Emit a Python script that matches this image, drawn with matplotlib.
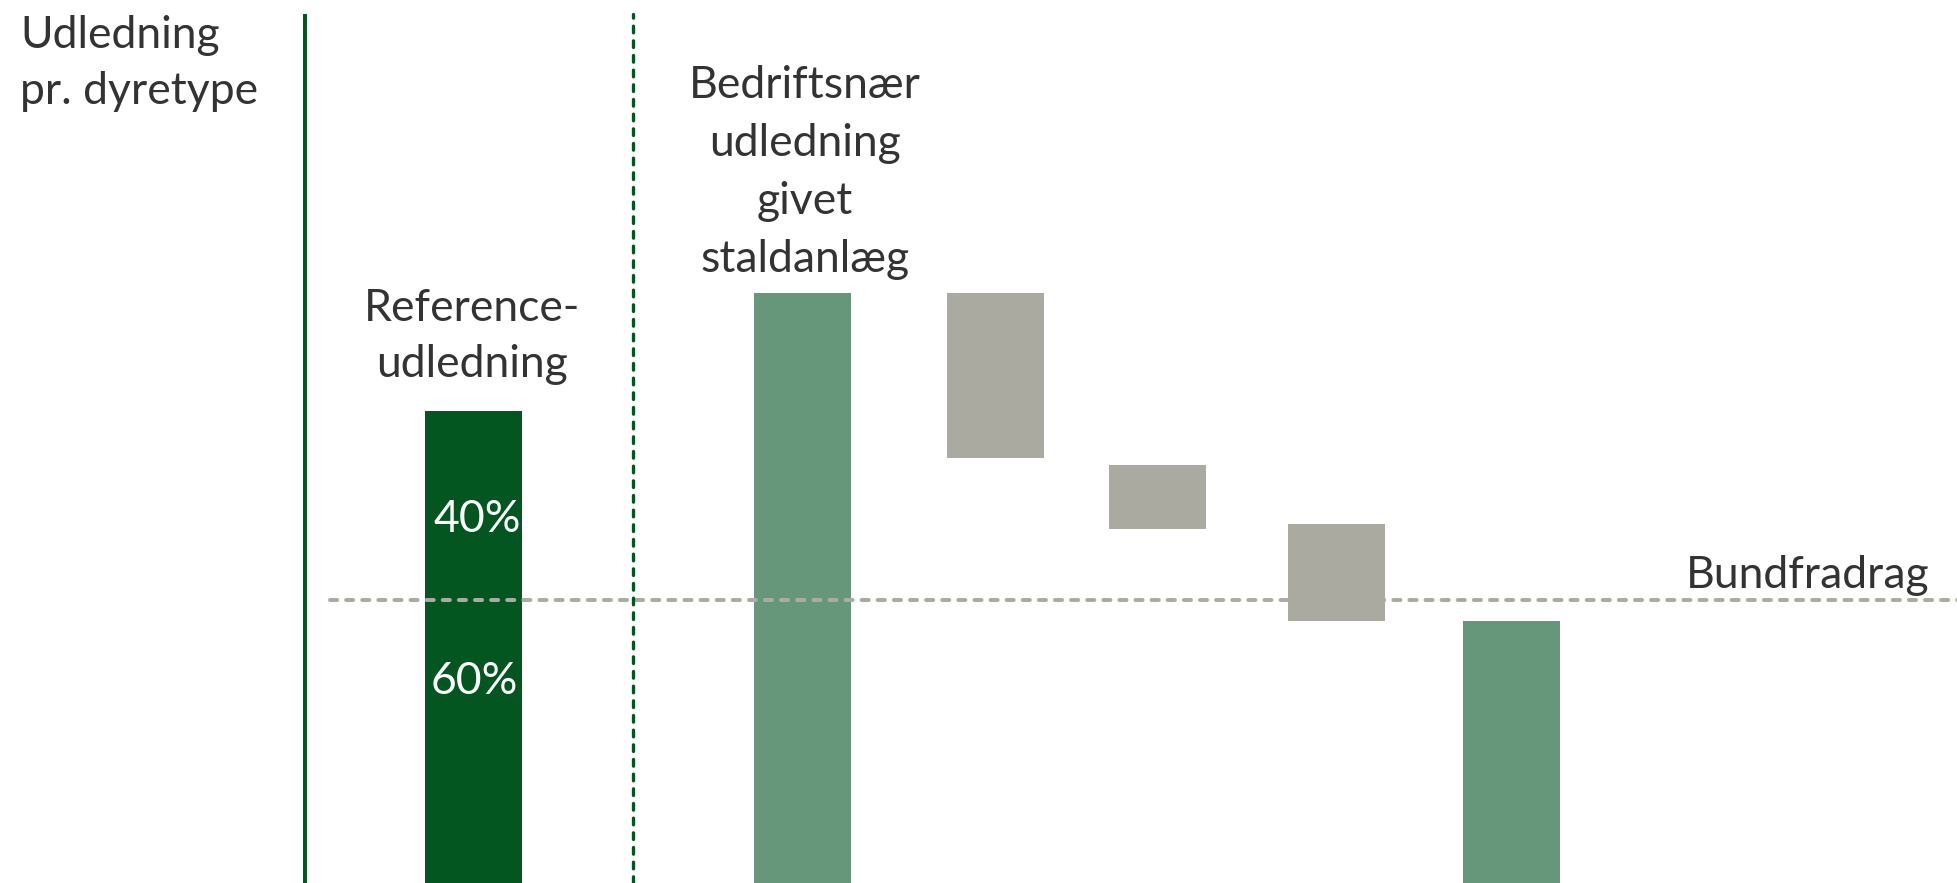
import matplotlib
matplotlib.use("Agg")
import matplotlib.pyplot as plt

plt.rcParams['font.family'] = ['Lato', 'DejaVu Sans']

# ---- data (emission index, reference = 100) ----
reference_value = 100
reference_split = ["60%", "40%"]
stald_value = 125
reduction_tops = [125, 88.5, 76]
reduction_bottoms = [90, 75, 55.5]
final_value = 55.5
bundfradrag = 60

# ---- layout (pixel-like x units) ----
W, H, DPI = 1958, 883, 100
x_ref, x_stald = 474, 803
x_red = [996, 1158, 1337]
x_final = 1512
bar_w = 97
y_top = 187.08

c_dark = "#03561F"
c_light = "#67977A"
c_gray = "#AAAAA1"
c_dash = "#ABABA3"
c_text = "#333333"

fig = plt.figure(figsize=(W / DPI, H / DPI), dpi=DPI)
ax = fig.add_axes([0, 0, 1, 1])
ax.set_xlim(0, W)
ax.set_ylim(0, y_top)
ax.axis("off")

ax.bar(x_ref, reference_value, width=bar_w, color=c_dark, zorder=2)
ax.bar(x_stald, stald_value, width=bar_w, color=c_light, zorder=2)
for xr, t, b in zip(x_red, reduction_tops, reduction_bottoms):
    ax.bar(xr, t - b, bottom=b, width=bar_w, color=c_gray, zorder=2)
ax.bar(x_final, final_value, width=bar_w, color=c_light, zorder=2)

# bundfradrag line
ax.plot([330, W], [bundfradrag, bundfradrag], color=c_dash, lw=2.9,
        linestyle=(0, (1.75, 2.25)), dash_capstyle="round", zorder=4)

# vertical separators
vtop = 184.1
ax.plot([305, 305], [0, vtop], color=c_dark, lw=2.9, solid_capstyle="butt", zorder=5)
ax.plot([633, 633], [0, vtop], color=c_dark, lw=2.4, linestyle=(0, (2.0, 2.4)),
        dash_capstyle="round", zorder=5)

fs = 32
def ftext(px, py, s, ha="left", color=c_text, size=fs):
    fig.text(px / W, 1 - py / H, s, ha=ha, va="baseline", color=color, fontsize=size)

ftext(20, 48, "Udledning")
ftext(20, 104, "pr. dyretype")

ftext(472, 321, "Reference-", ha="center")
ftext(472, 377, "udledning", ha="center")

for i, line in enumerate(["Bedriftsnær", "udledning", "givet", "staldanlæg"]):
    ftext(805, 98 + 58 * i, line, ha="center")

ftext(1930, 588, "Bundfradrag", ha="right")

ftext(477, 532, reference_split[1], ha="center", color="white")
ftext(474, 694, reference_split[0], ha="center", color="white")

fig.savefig("out.png", dpi=DPI)
